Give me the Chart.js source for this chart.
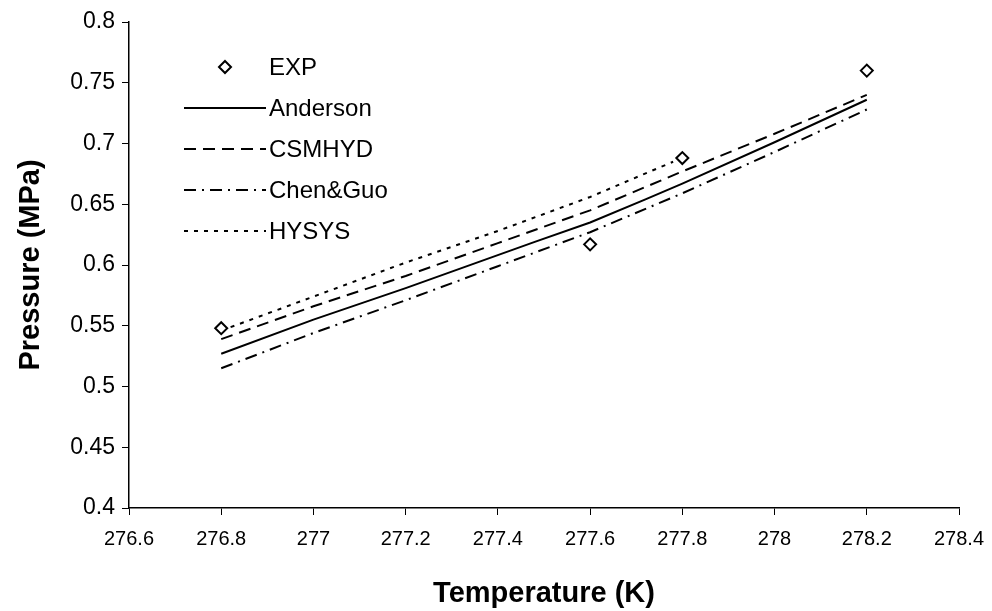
<!DOCTYPE html>
<html lang="en">
<head>
  <meta charset="UTF-8" />
  <title>Pressure vs Temperature</title>
  <script src="https://cdn.jsdelivr.net/npm/chart.js"></script>
  <style>
    html, body { margin: 0; padding: 0; background: #fff; }
    #wrap { width: 992px; height: 611px; position: relative; }
  </style>
</head>
<body>
  <div id="wrap"><canvas id="grafico" width="992" height="611"></canvas></div>

  <script>
    // experimental points
    const expTemp = [276.8, 277.6, 277.8, 278.2];
    const expPres = [0.548, 0.617, 0.688, 0.760];

    // model curves
    const andersonTemp = [276.8, 277.0, 277.2, 277.48, 277.6, 277.72, 277.8, 278.0, 278.2];
    const andersonPres = [0.527, 0.555, 0.581, 0.619, 0.635, 0.654, 0.667, 0.701, 0.736];

    const csmhydTemp = [276.8, 277.0, 277.2, 277.4, 277.6, 277.8, 278.0, 278.2];
    const csmhydPres = [0.539, 0.566, 0.591, 0.618, 0.645, 0.677, 0.708, 0.740];

    const chenGuoTemp = [276.8, 277.0, 277.2, 277.4, 277.6, 277.8, 278.0, 278.2];
    const chenGuoPres = [0.515, 0.544, 0.571, 0.599, 0.627, 0.659, 0.693, 0.728];

    const hysysTemp = [276.8, 277.0, 277.2, 277.4, 277.6, 277.78];
    const hysysPres = [0.546, 0.574, 0.602, 0.628, 0.656, 0.685];

    // axis ticks
    const xTicks = [276.6, 276.8, 277.0, 277.2, 277.4, 277.6, 277.8, 278.0, 278.2, 278.4];
    const yTicks = [0.4, 0.45, 0.5, 0.55, 0.6, 0.65, 0.7, 0.75, 0.8];

    const FONT = "'Liberation Sans', Arial, sans-serif";

    function puntos(ts, ps) {
      return ts.map((t, i) => ({ x: t, y: ps[i] }));
    }

    function curva(label, ts, ps, dash) {
      return {
        label,
        data: puntos(ts, ps),
        showLine: true,
        borderColor: '#000',
        borderWidth: 2,
        borderDash: dash,
        pointRadius: 0,
        fill: false,
        tension: 0
      };
    }

    const datasets = [
      {
        label: 'EXP',
        data: puntos(expTemp, expPres),
        showLine: false,
        pointStyle: 'rectRot',
        pointRadius: 6,
        pointBorderWidth: 2,
        pointBorderColor: '#000',
        pointBackgroundColor: '#fff'
      },
      curva('Anderson', andersonTemp, andersonPres, []),
      curva('CSMHYD', csmhydTemp, csmhydPres, [12, 7]),
      curva('Chen&Guo', chenGuoTemp, chenGuoPres, [12, 6, 2, 6]),
      curva('HYSYS', hysysTemp, hysysPres, [4, 6])
    ];

    // legend drawn inside the plot, upper left
    const leyenda = {
      id: 'leyenda',
      afterDraw(chart) {
        const ctx = chart.ctx;
        const x0 = 184, x1 = 266, xt = 269, y0 = 67, paso = 41;
        ctx.save();
        ctx.font = '24px ' + FONT;
        ctx.textBaseline = 'middle';
        chart.data.datasets.forEach((ds, i) => {
          const y = y0 + i * paso;
          ctx.strokeStyle = '#000';
          ctx.lineWidth = 2;
          if (ds.showLine) {
            ctx.beginPath();
            ctx.setLineDash(ds.borderDash);
            ctx.moveTo(x0, y);
            ctx.lineTo(x1, y);
            ctx.stroke();
            ctx.setLineDash([]);
          } else {
            const cx = 225;
            ctx.fillStyle = '#fff';
            ctx.beginPath();
            ctx.moveTo(cx, y - 6); ctx.lineTo(cx + 6, y); ctx.lineTo(cx, y + 6); ctx.lineTo(cx - 6, y);
            ctx.closePath();
            ctx.fill();
            ctx.stroke();
          }
          ctx.fillStyle = '#000';
          ctx.fillText(ds.label, xt, y + 1);
        });
        ctx.restore();
      }
    };

    new Chart(document.getElementById('grafico'), {
      type: 'scatter',
      data: { datasets },
      plugins: [leyenda],
      options: {
        responsive: false,
        animation: false,
        layout: { padding: { left: 0, right: 33, top: 22, bottom: 0 } },
        plugins: { legend: { display: false }, tooltip: { enabled: false } },
        scales: {
          x: {
            type: 'linear',
            min: 276.6,
            max: 278.4,
            afterBuildTicks: s => { s.ticks = xTicks.map(v => ({ value: v })); },
            afterFit: s => { s.height = 103; s.paddingLeft = 0; s.paddingRight = 0; },
            grid: { drawOnChartArea: false, drawTicks: true, tickLength: 7, color: '#000' },
            border: { color: '#000', width: 1.5 },
            ticks: {
              color: '#000',
              font: { family: FONT, size: 20 },
              padding: 12,
              maxRotation: 0,
              callback: v => String(Number(v.toFixed(1)))
            },
            title: {
              display: true,
              text: 'Temperature (K)',
              color: '#000',
              font: { family: FONT, size: 29, weight: 'bold' },
              padding: { top: 16, bottom: 0 }
            }
          },
          y: {
            type: 'linear',
            min: 0.4,
            max: 0.8,
            afterBuildTicks: s => { s.ticks = yTicks.map(v => ({ value: v })); },
            afterFit: s => { s.width = 129; s.paddingTop = 0; s.paddingBottom = 0; },
            grid: { drawOnChartArea: false, drawTicks: true, tickLength: 7, color: '#000' },
            border: { color: '#000', width: 1.5 },
            ticks: {
              color: '#000',
              font: { family: FONT, size: 23 },
              padding: 7,
              callback: v => String(Number(v.toFixed(2)))
            },
            title: {
              display: true,
              text: 'Pressure (MPa)',
              color: '#000',
              font: { family: FONT, size: 29, weight: 'bold' },
              padding: { top: 14, bottom: 0 }
            }
          }
        }
      }
    });
  </script>
</body>
</html>
